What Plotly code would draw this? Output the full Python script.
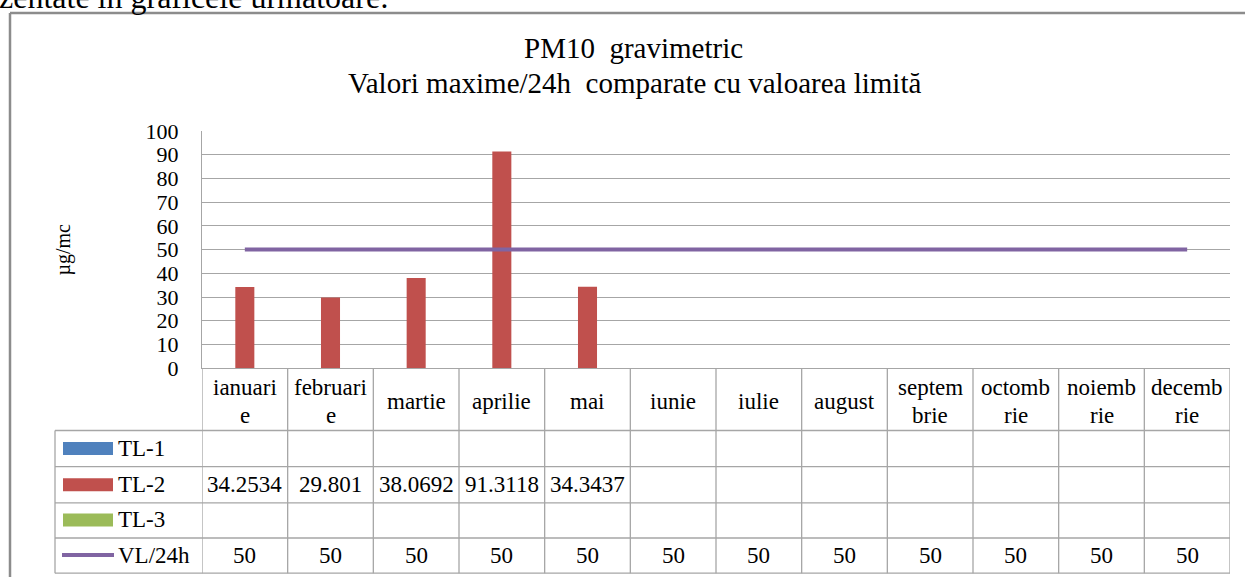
import plotly.graph_objects as go

# ---- data ----
months = ["ianuarie", "februarie", "martie", "aprilie", "mai", "iunie",
          "iulie", "august", "septembrie", "octombrie", "noiembrie", "decembrie"]
month_labels = ["ianuari\ne", "februari\ne", "martie", "aprilie", "mai", "iunie",
                "iulie", "august", "septem\nbrie", "octomb\nrie", "noiemb\nrie", "decemb\nrie"]
tl1 = [None] * 12
tl2 = [34.2534, 29.801, 38.0692, 91.3118, 34.3437, None, None, None, None, None, None, None]
tl3 = [None] * 12
vl24 = [50] * 12
series_names = ["TL-1", "TL-2", "TL-3", "VL/24h"]
y_ticks = [0, 10, 20, 30, 40, 50, 60, 70, 80, 90, 100]

title1 = "PM10  gravimetric"
title2 = "Valori maxime/24h  comparate cu valoarea limită"
y_title = "µg/mc"
top_text = "zentate în graficele următoare:"

# ---- style / layout ----
W, H = 1245, 592
# the photographed page shows page row p at picture row 13.6 + 0.953 * p
V_OFF, V_SCALE = 13.6, 0.953
FONT = "Liberation Serif, Times New Roman, DejaVu Serif, serif"
C_BLUE, C_RED, C_GREEN, C_PURPLE = "#4f81bd", "#c0504d", "#9bbb59", "#8064a2"
GRID = "#a6a6a6"
TXT = 23


def px(x):
    return x / W


def py(y):
    """picture row -> paper fraction"""
    p = (y - V_OFF) / V_SCALE
    return 1 - p / H


PL, PR, PT, PB = 202, 1230, 132, 368  # plot area in picture pixels
fig = go.Figure()
fig.add_trace(go.Bar(x=months, y=tl1, name=series_names[0], marker_color=C_BLUE))
fig.add_trace(go.Bar(x=months, y=tl2, name=series_names[1], marker_color=C_RED,
                     marker_line_width=0))
fig.add_trace(go.Bar(x=months, y=tl3, name=series_names[2], marker_color=C_GREEN))
fig.add_trace(go.Scatter(x=months, y=vl24, name=series_names[3], mode="lines",
                         line=dict(color=C_PURPLE, width=4)))

shapes = []
annotations = []

# outer frame (left and top edges; the rest lies outside the picture)
shapes.append(dict(type="line", xref="paper", yref="paper",
                   x0=px(10), x1=px(10), y0=0, y1=py(14.5),
                   line=dict(color="#8c8c8c", width=2.5)))
shapes.append(dict(type="line", xref="paper", yref="paper",
                   x0=px(10), x1=1, y0=py(14.5), y1=py(14.5),
                   line=dict(color="#8c8c8c", width=2.5)))

# table geometry
row_lines = [430, 466, 502, 537, 572]
row_centers = [448, 484, 519, 554]
TL = 55
for yl in row_lines:
    shapes.append(dict(type="line", xref="paper", yref="paper",
                       x0=px(TL), x1=px(PR), y0=py(yl), y1=py(yl),
                       line=dict(color=GRID, width=1.3)))
shapes.append(dict(type="line", xref="paper", yref="paper",
                   x0=px(TL), x1=px(TL), y0=py(row_lines[0]), y1=py(row_lines[-1]),
                   line=dict(color=GRID, width=1.3)))
for i in range(len(months) + 1):
    shapes.append(dict(type="line", xref="x", yref="paper",
                       x0=i - 0.5, x1=i - 0.5, y0=py(PB), y1=py(row_lines[-1]),
                       line=dict(color=GRID, width=1.3)))

# header labels
HDR_C, LINE_SP = 401, 28
for m, lab in zip(months, month_labels):
    parts = lab.split("\n")
    n = len(parts)
    for k, p in enumerate(parts):
        yc = HDR_C + (k - (n - 1) / 2) * LINE_SP
        annotations.append(dict(x=m, xref="x", y=py(yc), yref="paper", text=p,
                                showarrow=False, xanchor="center", yanchor="middle",
                                font=dict(family=FONT, size=TXT, color="black")))

# legend keys + row values
key_colors = [C_BLUE, C_RED, C_GREEN]
all_series = [tl1, tl2, tl3, vl24]
for r, (name, vals) in enumerate(zip(series_names, all_series)):
    yc = row_centers[r]
    if r < 3:
        shapes.append(dict(type="rect", xref="paper", yref="paper",
                           x0=px(63), x1=px(113), y0=py(yc + 6.5), y1=py(yc - 6.5),
                           fillcolor=key_colors[r], line=dict(width=0)))
    else:
        shapes.append(dict(type="line", xref="paper", yref="paper",
                           x0=px(62), x1=px(114), y0=py(yc), y1=py(yc),
                           line=dict(color=C_PURPLE, width=4)))
    annotations.append(dict(x=px(116), xref="paper", y=py(yc), yref="paper", text=name,
                            showarrow=False, xanchor="left", yanchor="middle",
                            font=dict(family=FONT, size=TXT, color="black")))
    for m, v in zip(months, vals):
        if v is None:
            continue
        annotations.append(dict(x=m, xref="x", y=py(yc), yref="paper", text=str(v),
                                showarrow=False, xanchor="center", yanchor="middle",
                                font=dict(family=FONT, size=TXT, color="black")))

# titles and texts
annotations.append(dict(x=px(633), xref="paper", y=py(49), yref="paper", text=title1,
                        showarrow=False, xanchor="center", yanchor="middle",
                        font=dict(family=FONT, size=29, color="black")))
annotations.append(dict(x=px(634), xref="paper", y=py(84), yref="paper", text=title2,
                        showarrow=False, xanchor="center", yanchor="middle",
                        font=dict(family=FONT, size=29, color="black")))
annotations.append(dict(x=px(64), xref="paper", y=py(250), yref="paper", text=y_title,
                        showarrow=False, textangle=-90, xanchor="center", yanchor="middle",
                        font=dict(family=FONT, size=20, color="black")))
annotations.append(dict(x=px(-3), xref="paper", y=1 + 16 / H, yref="paper", text=top_text,
                        showarrow=False, xanchor="left", yanchor="middle",
                        font=dict(family=FONT, size=32, color="black")))

fig.update_layout(
    width=W, height=H, autosize=False,
    margin=dict(l=0, r=0, t=0, b=0),
    paper_bgcolor="white", plot_bgcolor="white",
    showlegend=False,
    barmode="group", bargap=1 / 3, bargroupgap=0,
    font=dict(family=FONT, color="black"),
    xaxis=dict(domain=[px(PL), px(PR)], range=[-0.5, 11.5], type="category",
               categoryorder="array", categoryarray=months,
               showticklabels=False, showgrid=False, zeroline=False,
               showline=True, linecolor=GRID, linewidth=1.3, ticks=""),
    yaxis=dict(domain=[py(PB), py(PT)], range=[0, 100], tickvals=y_ticks,
               showgrid=True, gridcolor=GRID, gridwidth=1.3,
               zeroline=False, showline=True, linecolor=GRID, linewidth=1.3,
               ticks="", ticklabelstandoff=18,
               tickfont=dict(family=FONT, size=22, color="black")),
    shapes=shapes,
    annotations=annotations,
)

fig.write_html("out.html", config={"displayModeBar": False},
               post_script="document.body.style.margin='0px';"
                           "document.body.style.overflow='hidden';")
